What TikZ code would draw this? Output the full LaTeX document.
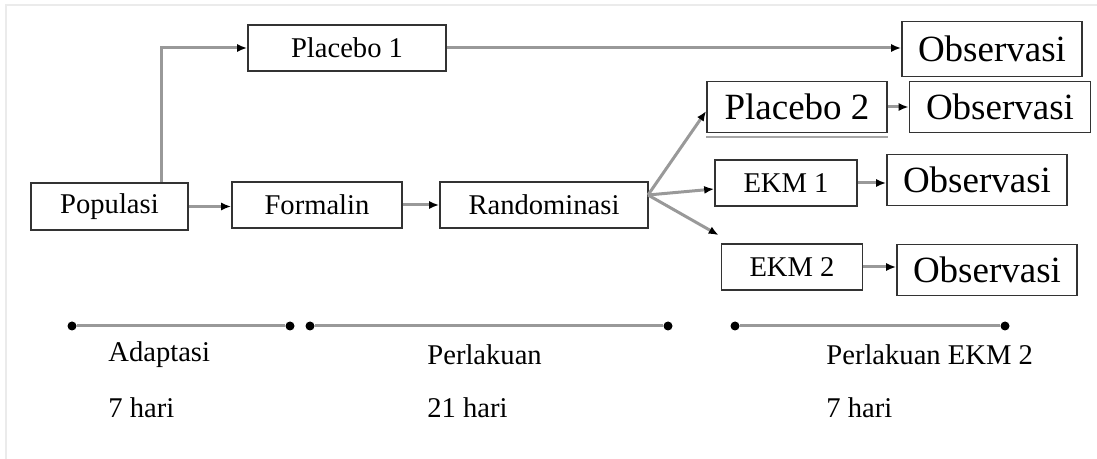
\documentclass[tikz,border=0pt]{standalone}
\usepackage{fontspec}
\setmainfont{Liberation Serif}
\usetikzlibrary{arrows.meta}

\tikzset{
  kotak/.style={draw=black!80,line width=0.8pt,inner sep=0pt,font=\fontsize{14.3}{16}\selectfont},
  kotakbesar/.style={kotak,font=\fontsize{18.5}{21}\selectfont},
  panah/.style={draw=black!40,line width=1.5pt,-{Latex[black,length=5pt,width=4pt]}},
  titik/.style={circle,fill,inner sep=0pt,minimum size=4.5pt},
  label/.style={anchor=west,inner sep=0pt,font=\fontsize{14.3}{16}\selectfont}
}

\begin{document}
\begin{tikzpicture}[x=0.5pt,y=-0.5pt]
\useasboundingbox (0,0) rectangle (1097,459);
\draw[black!8,line width=1pt] (6,459) -- (6,5) -- (1097,5);

% Boxes
\node[kotak,minimum width=78.5pt,minimum height=23.5pt] (pop) at (109.5,206.5) {Populasi};
\node[kotak,minimum width=85pt,minimum height=23pt] (for) at (317,205) {Formalin};
\node[kotak,minimum width=104pt,minimum height=23pt] (ran) at (544,205) {Randominasi};
\node[kotak,minimum width=99pt,minimum height=23pt] (pl1) at (347,48) {Placebo 1};
\node[kotakbesar,minimum width=90pt,minimum height=25.5pt] (pl2) at (797,107) {Placebo 2};
\node[kotak,minimum width=71pt,minimum height=23pt] (ekm1) at (786,183) {EKM 1};
\node[kotak,minimum width=70.5pt,minimum height=23pt] (ekm2) at (792,267) {EKM 2};
\draw[black!35,line width=1pt] ([yshift=-2pt]pl2.south west) -- ([yshift=-2pt]pl2.south east);

% Observasi
\node[kotakbesar,minimum width=90pt,minimum height=27.5pt] (obs0) at (992,49) {Observasi};
\node[kotakbesar,minimum width=90.5pt,minimum height=25.5pt] (obs1) at (1000,107) {Observasi};
\node[kotakbesar,minimum width=90pt,minimum height=25.5pt] (obs2) at (977,180) {Observasi};
\node[kotakbesar,minimum width=90pt,minimum height=25.5pt] (obs3) at (987,270) {Observasi};

% Arrows
\coordinate (fan) at (648,195);
\draw[panah] ([xshift=26pt]pop.north) |- (pl1.west);
\draw[panah] (pl1.east) -- (pl1.east -| obs0.west);
\draw[panah] (pop.east) -- (pop.east -| for.west);
\draw[panah] (for.east) -- (for.east -| ran.west);
\draw[panah] (fan) -- ([yshift=-2pt]pl2.west);
\draw[panah] (fan) -- ([yshift=-3pt]ekm1.west);
\draw[panah] (fan) -- ([xshift=-1pt,yshift=4pt]ekm2.north west);
\draw[panah] (pl2.east) -- (pl2.east -| obs1.west);
\draw[panah] (ekm1.east) -- (ekm1.east -| obs2.west);
\draw[panah] (ekm2.east) -- (ekm2.east -| obs3.west);

% Time line
\foreach \n/\x in {1/72,2/290,3/310,4/668,5/735,6/1005} {
    \node[titik] (t\n) at (\x,326) {};
}
\foreach \a/\b in {1/2,3/4,5/6} {
    \draw[black!40,line width=1.5pt] (t\a) -- (t\b);
}
\node[label] (lad) at (108,355) {Adaptasi};
\node[label] (had) at (108,408) {7 hari};
\node[label] (lpe) at (427,355) {Perlakuan};
\node[label] (hpe) at (427,408) {21 hari};
\node[label] (lek) at (826,355) {Perlakuan EKM 2};
\node[label] (hek) at (826,408) {7 hari};
\end{tikzpicture}
\end{document}
